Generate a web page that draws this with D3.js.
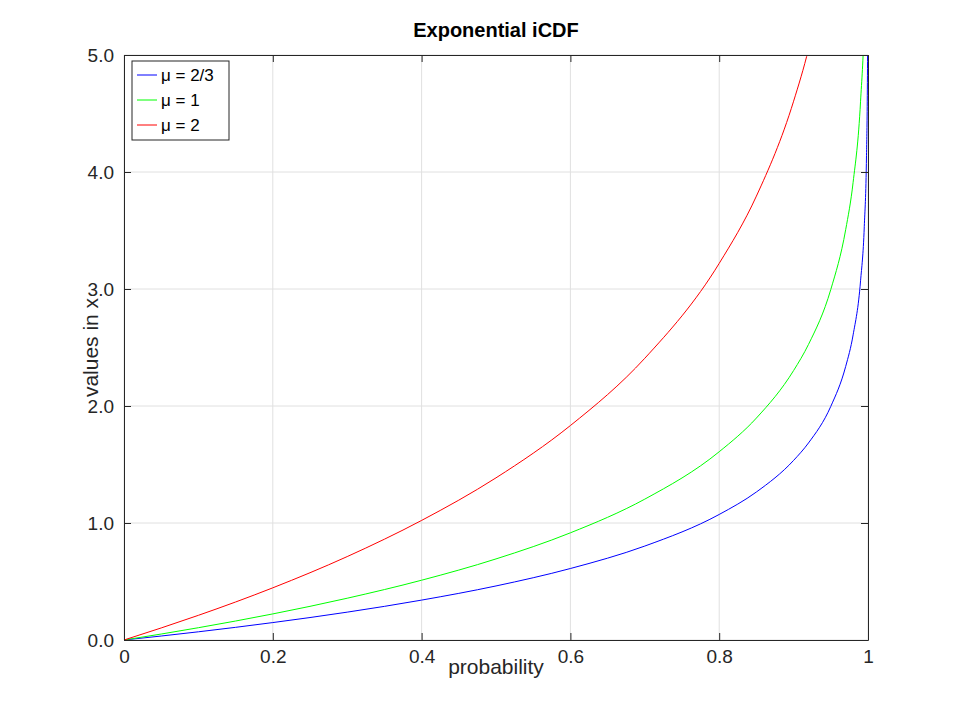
<!DOCTYPE html>
<html>
<head>
<meta charset="UTF-8">
<style>
  body { margin: 0; background: #fff; font-family: "Liberation Sans", Arial, sans-serif; }
  svg { display: block; }
</style>
</head>
<body>
<svg width="960" height="720"></svg>
<script src="https://d3js.org/d3.v7.min.js"></script>
<script>
// values
let probs = [0, 0.05, 0.1, 0.2, 0.3, 0.4, 0.5, 0.6, 0.7, 0.8, 0.85, 0.9, 0.92, 0.95, 0.97, 0.98, 0.99, 0.995, 0.998, 0.999, 0.9995];
let muTwoThirds = [0, 0.034, 0.07, 0.149, 0.238, 0.341, 0.462, 0.611, 0.803, 1.073, 1.265, 1.535, 1.684, 1.997, 2.338, 2.608, 3.07, 3.532, 4.143, 4.605, 5.07];
let muOne = [0, 0.051, 0.105, 0.223, 0.357, 0.511, 0.693, 0.916, 1.204, 1.609, 1.897, 2.303, 2.526, 2.996, 3.507, 3.912, 4.605, 5.3, 6.2, 6.9, 7.6];
let muTwo = [0, 0.103, 0.211, 0.446, 0.713, 1.022, 1.386, 1.833, 2.408, 3.219, 3.794, 4.605, 5.05, 6.0, 7.0, 7.8, 9.2, 10.6, 12.4, 13.8, 15.2];
let seriesNames = ["μ = 2/3", "μ = 1", "μ = 2"];
let seriesColors = ["#0000ff", "#00ff00", "#ff0000"];
let xTicks = [0, 0.2, 0.4, 0.6, 0.8, 1];
let yTicks = [0, 1, 2, 3, 4, 5];

let svg = d3.select("svg");
let pLeft = 124, pRight = 868, pTop = 55, pBottom = 640;
let x = d3.scaleLinear().domain([0, 1]).range([pLeft, pRight]);
let y = d3.scaleLinear().domain([0, 5]).range([pBottom, pTop]);

// grid
svg.append("g").selectAll("line").data(xTicks).enter().append("line")
    .attr("x1", d => x(d)).attr("x2", d => x(d)).attr("y1", pTop).attr("y2", pBottom)
    .attr("stroke", "#e0e0e0");
svg.append("g").selectAll("line").data(yTicks).enter().append("line")
    .attr("x1", pLeft).attr("x2", pRight).attr("y1", d => y(d)).attr("y2", d => y(d))
    .attr("stroke", "#e0e0e0");

svg.append("clipPath").attr("id", "clip").append("rect")
    .attr("x", pLeft).attr("y", pTop).attr("width", pRight - pLeft).attr("height", pBottom - pTop);

let line = d3.line().x((d, i) => x(probs[i])).y(d => y(d)).curve(d3.curveMonotoneX);
[muTwoThirds, muOne, muTwo].forEach((s, k) => {
    svg.append("path").attr("d", line(s)).attr("fill", "none")
        .attr("stroke", seriesColors[k]).attr("stroke-width", 1).attr("clip-path", "url(#clip)");
});

// axes
let fontSize = "19px";
let xb = svg.append("g").attr("transform", `translate(0,${pBottom})`)
    .call(d3.axisBottom(x).tickValues(xTicks).tickSizeInner(-7).tickSizeOuter(0).tickPadding(10).tickFormat(d3.format("")));
let xt = svg.append("g").attr("transform", `translate(0,${pTop})`)
    .call(d3.axisTop(x).tickValues(xTicks).tickSizeInner(-7).tickSizeOuter(0).tickFormat(""));
let yl = svg.append("g").attr("transform", `translate(${pLeft},0)`)
    .call(d3.axisLeft(y).tickValues(yTicks).tickSizeInner(-7).tickSizeOuter(0).tickPadding(10));
let yr = svg.append("g").attr("transform", `translate(${pRight},0)`)
    .call(d3.axisRight(y).tickValues(yTicks).tickSizeInner(-7).tickSizeOuter(0).tickFormat(""));
[xb, xt, yl, yr].forEach(a => {
    a.selectAll("path").attr("stroke", "#262626");
    a.selectAll("line").attr("stroke", "#262626");
    a.selectAll("text").attr("fill", "#262626").style("font-size", fontSize).style("font-family", "Liberation Sans, Arial, sans-serif");
});

svg.append("text").attr("x", (pLeft + pRight) / 2).attr("y", 37).attr("text-anchor", "middle")
    .style("font-size", "20px").style("font-weight", "bold").text("Exponential iCDF");
svg.append("text").attr("x", (pLeft + pRight) / 2).attr("y", 674).attr("text-anchor", "middle")
    .attr("fill", "#262626").style("font-size", "21px").text("probability");
svg.append("text").attr("transform", `translate(98,${(pTop + pBottom) / 2}) rotate(-90)`)
    .attr("text-anchor", "middle").attr("fill", "#262626").style("font-size", "21px").text("values in x");

// legend
let lg = svg.append("g").attr("transform", "translate(132,61)");
lg.append("rect").attr("width", 97).attr("height", 79).attr("fill", "#fff").attr("stroke", "#262626");
seriesNames.forEach((n, i) => {
    let yy = 14 + i * 25;
    lg.append("line").attr("x1", 5).attr("x2", 25).attr("y1", yy).attr("y2", yy).attr("stroke", seriesColors[i]);
    lg.append("text").attr("x", 29).attr("y", yy + 6).style("font-size", "17px").attr("fill", "#000").text(n);
});
</script>
</body>
</html>
